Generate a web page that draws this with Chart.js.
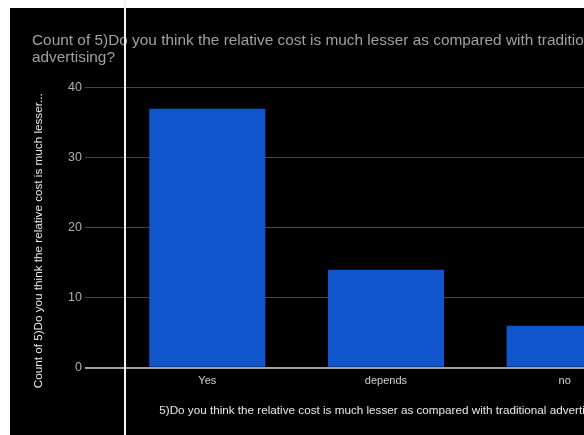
<!DOCTYPE html>
<html>
<head>
<meta charset="utf-8">
<script src="https://cdn.jsdelivr.net/npm/chart.js@4"></script>
<style>
    html, body { margin: 0; padding: 0; background: #ffffff; overflow: hidden; }
    #frame { position: absolute; left: 10px; top: 8px; width: 574px; height: 427px; overflow: hidden; background: #000; }
    #cursorLine { position: absolute; left: 124px; top: 0; width: 2px; height: 435px; background: #f4f4f4; }
</style>
</head>
<body>
<div id="frame"><canvas id="barChart" width="660" height="427" style="width:660px;height:427px"></canvas></div>
<div id="cursorLine"></div>

<script>
/** chart data */
const categories = ['Yes', 'depends', 'no'];
const counts = [37, 14, 6];
const yTicks = [0, 10, 20, 30, 40];

const chartTitle = ['Count of 5)Do you think the relative cost is much lesser as compared with traditional', 'advertising?'];
// trailing spaces nudge the rotated title down a little, like the original
const yTitle = 'Count of 5)Do you think the relative cost is much lesser...        ';
const xTitle = '5)Do you think the relative cost is much lesser as compared with traditional advertising?';

const fontFamily = 'Arial, "Liberation Sans", sans-serif';

const blackBg = {
    id: 'blackBg',
    beforeDraw(chart) {
        const c = chart.ctx;
        c.save();
        c.fillStyle = '#000';
        c.fillRect(0, 0, chart.width, chart.height);
        c.restore();
    }
};

const ctx = document.getElementById('barChart').getContext('2d');
const barChart = new Chart(ctx, {
    type: 'bar',
    data: {
        labels: categories,
        datasets: [{
            label: 'Count',
            data: counts,
            backgroundColor: '#1155cc',
            categoryPercentage: 0.65,
            barPercentage: 1,
        }]
    },
    options: {
        responsive: false,
        animation: false,
        layout: { padding: { left: 22, right: 16, top: 0, bottom: 17 } },
        plugins: {
            legend: { display: false },
            tooltip: { enabled: false },
            title: {
                display: true,
                text: chartTitle,
                align: 'start',
                color: '#a0a0a0',
                font: { family: fontFamily, size: 15.4, weight: 'normal', lineHeight: 1.1 },
                padding: { top: 24, bottom: 22 },
            },
        },
        scales: {
            x: {
                grid: { display: false, drawTicks: false, tickLength: 0 },
                border: { display: false },
                ticks: {
                    color: '#d0d0d0',
                    font: { family: fontFamily, size: 11 },
                    padding: 7,
                },
                title: {
                    display: true,
                    text: xTitle,
                    color: '#e8e8e8',
                    font: { family: fontFamily, size: 11.7 },
                    padding: { top: 9, bottom: 0 },
                },
            },
            y: {
                min: 0,
                max: 40,
                afterBuildTicks: (axis) => { axis.ticks = yTicks.map(v => ({ value: v })); },
                border: { display: false },
                grid: {
                    color: (c) => c.tick && c.tick.value === 0 ? '#a0a0a0' : '#464646',
                    lineWidth: (c) => c.tick && c.tick.value === 0 ? 2 : 1,
                    tickLength: 33,
                },
                ticks: {
                    color: '#b0b0b0',
                    font: { family: fontFamily, size: 12.5 },
                    padding: 3,
                },
                title: {
                    display: true,
                    text: yTitle,
                    color: '#ececec',
                    font: { family: fontFamily, size: 11.7 },
                    padding: { top: 0, bottom: 19 },
                },
            },
        },
    },
    plugins: [blackBg],
});
</script>
</body>
</html>
